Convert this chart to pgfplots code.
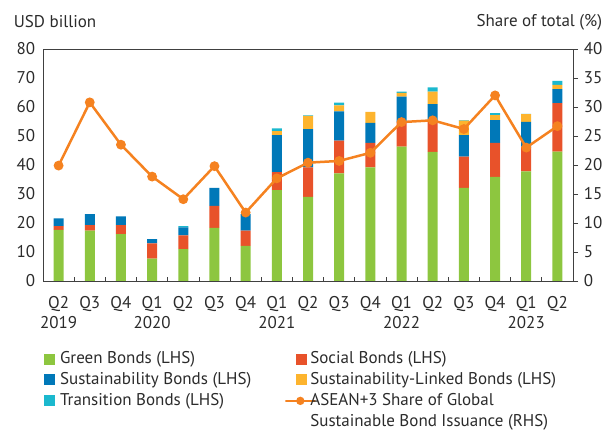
\documentclass[border=0pt]{standalone}
\usepackage{fontspec}
\setmainfont{PT Sans}
\usepackage{pgfplots}
\pgfplotsset{compat=1.18}
\definecolor{cgreen}{HTML}{8DC63F}
\definecolor{cred}{HTML}{E8522A}
\definecolor{cblue}{HTML}{0078B8}
\definecolor{cyellow}{HTML}{FDB42E}
\definecolor{ccyan}{HTML}{1BB8CE}
\definecolor{corange}{HTML}{F58220}
\definecolor{ctext}{HTML}{2B2B2B}
\pgfplotsset{sq legend/.style={legend image code/.code={\path[draw=none,fill=none] (0pt,0pt) -- (14pt,0pt); \fill[##1, overlay] (0pt,-5.5pt) rectangle (11pt,5.5pt);}},
  sqb legend/.style={legend image code/.code={\path[draw=none,fill=none] (0pt,0pt) -- (14pt,0pt); \fill[##1, overlay] (1.5pt,-5.5pt) rectangle (12.5pt,5.5pt);}},
  ln legend/.style={legend image code/.code={\path[draw=none,fill=none] (0pt,0pt) -- (14pt,0pt); \draw[mark repeat=2,mark phase=2,##1, overlay] plot coordinates {(-4pt,0pt) (6pt,0pt) (16pt,0pt)};}},
  blank legend/.style={legend image code/.code={\path[draw=none,fill=none] (0pt,0pt) -- (14pt,0pt);}}}
\pgfplotstableread{
x green social sust slb trans share
0  17.6 1.3  2.7  0.0 0.0 19.9
1  17.4 1.9  3.8  0.0 0.0 30.8
2  16.2 3.1  3.0  0.0 0.0 23.5
3  7.7  5.3  1.4  0.0 0.0 18.0
4  11.0 4.7  2.8  0.0 0.4 14.1
5  18.3 7.6  6.2  0.0 0.0 19.8
6  12.1 5.3  5.7  0.0 0.0 11.8
7  31.3 6.2  12.8 1.4 0.9 17.7
8  29.0 10.2 13.2 4.5 0.2 20.4
9  37.1 11.3 10.1 2.1 0.9 20.7
10 39.2 8.4  6.9  3.8 0.0 22.1
11 46.3 8.5  8.8  1.3 0.4 27.4
12 44.5 11.0 5.5  4.3 1.5 27.7
13 32.1 10.8 7.4  5.0 0.2 26.2
14 35.9 11.7 7.9  1.7 0.7 32.0
15 37.8 8.5  8.6  2.6 0.1 23.0
16 44.6 16.7 4.9  1.4 1.4 26.7
}\datatable
\begin{document}
\fontsize{17}{20}\selectfont
\color{ctext}
\begin{tikzpicture}
\path[use as bounding box] (0pt,0pt) rectangle (605pt,430pt);
\begin{axis}[
  at={(43pt,149pt)}, anchor=south west, scale only axis,
  width=530pt, height=232pt,
  ybar stacked, bar width=10pt,
  xmin=-0.5, xmax=16.5, ymin=0, ymax=80,
  axis line style={black!75, line width=0.9pt},
  xtick={0,...,16},
  xticklabels={{Q2\\2019},Q3,Q4,{Q1\\2020},Q2,Q3,Q4,{Q1\\2021},Q2,Q3,Q4,{Q1\\2022},Q2,Q3,Q4,{Q1\\2023},Q2},
  xticklabel style={align=center, anchor=north, yshift=-10pt, font=\fontsize{17}{20}\selectfont},
  minor xtick={0.5,1.5,...,15.5},
  major tick length=0pt, minor tick length=3.5pt, tick align=inside,
  tick style={black!75, line width=0.7pt},
  xtick pos=bottom, ytick pos=left,
  ytick={0,10,...,80},
  yticklabel style={xshift=-2pt},
  /pgf/number format/assume math mode=true,
  legend columns=2,
  legend style={at={(-0.004,-0.282)}, anchor=north west, draw=none, fill=none,
    font=\fontsize{17}{20}\selectfont,
    nodes={text height=12pt, text depth=3.5pt, inner ysep=2.7pt, inner xsep=2pt},
    /tikz/every odd column/.append style={column sep=0pt},
    /tikz/every even column/.append style={column sep=41pt}},
  legend cell align=left,
]
\addplot[fill=cgreen, draw=none, sq legend] table[x=x,y=green]{\datatable};
\addlegendentry{Green Bonds (LHS)}
\addplot[fill=cred, draw=none, sqb legend] table[x=x,y=social]{\datatable};
\addlegendentry{Social Bonds (LHS)}
\addplot[fill=cblue, draw=none, sq legend] table[x=x,y=sust]{\datatable};
\addlegendentry{Sustainability Bonds (LHS)}
\addplot[fill=cyellow, draw=none, sqb legend] table[x=x,y=slb]{\datatable};
\addlegendentry{Sustainability-Linked Bonds (LHS)}
\addplot[fill=ccyan, draw=none, sq legend] table[x=x,y=trans]{\datatable};
\addlegendentry{Transition Bonds (LHS)}
\addlegendimage{corange, line width=2.2pt, mark=*, mark size=3pt, mark options={fill=corange, draw=corange}, ln legend}
\addlegendentry{ASEAN+3 Share of Global}
\addlegendimage{draw=none, fill=none, blank legend}
\addlegendentry{}
\addlegendimage{draw=none, fill=none, blank legend}
\addlegendentry{Sustainable Bond Issuance (RHS)}
\end{axis}
\begin{axis}[
  at={(43pt,149pt)}, anchor=south west, scale only axis,
  width=530pt, height=232pt,
  xmin=-0.5, xmax=16.5, ymin=0, ymax=40,
  axis x line=none, axis y line*=right,
  axis line style={black!75, line width=0.9pt},
  ytick={0,5,...,40},
  tick align=outside, major tick length=5pt,
  tick style={black!75, line width=0.7pt},
  yticklabel style={xshift=0pt},
  /pgf/number format/assume math mode=true,
]
\addplot[corange, line width=2.5pt, mark=*, mark size=3.6pt, mark options={fill=corange, draw=corange}]
  table[x=x,y=share]{\datatable};
\end{axis}
\node[anchor=west] at (8pt,408pt) {USD billion};
\node[anchor=east] at (608pt,408pt) {Share of total (\%)};
\end{tikzpicture}
\end{document}
